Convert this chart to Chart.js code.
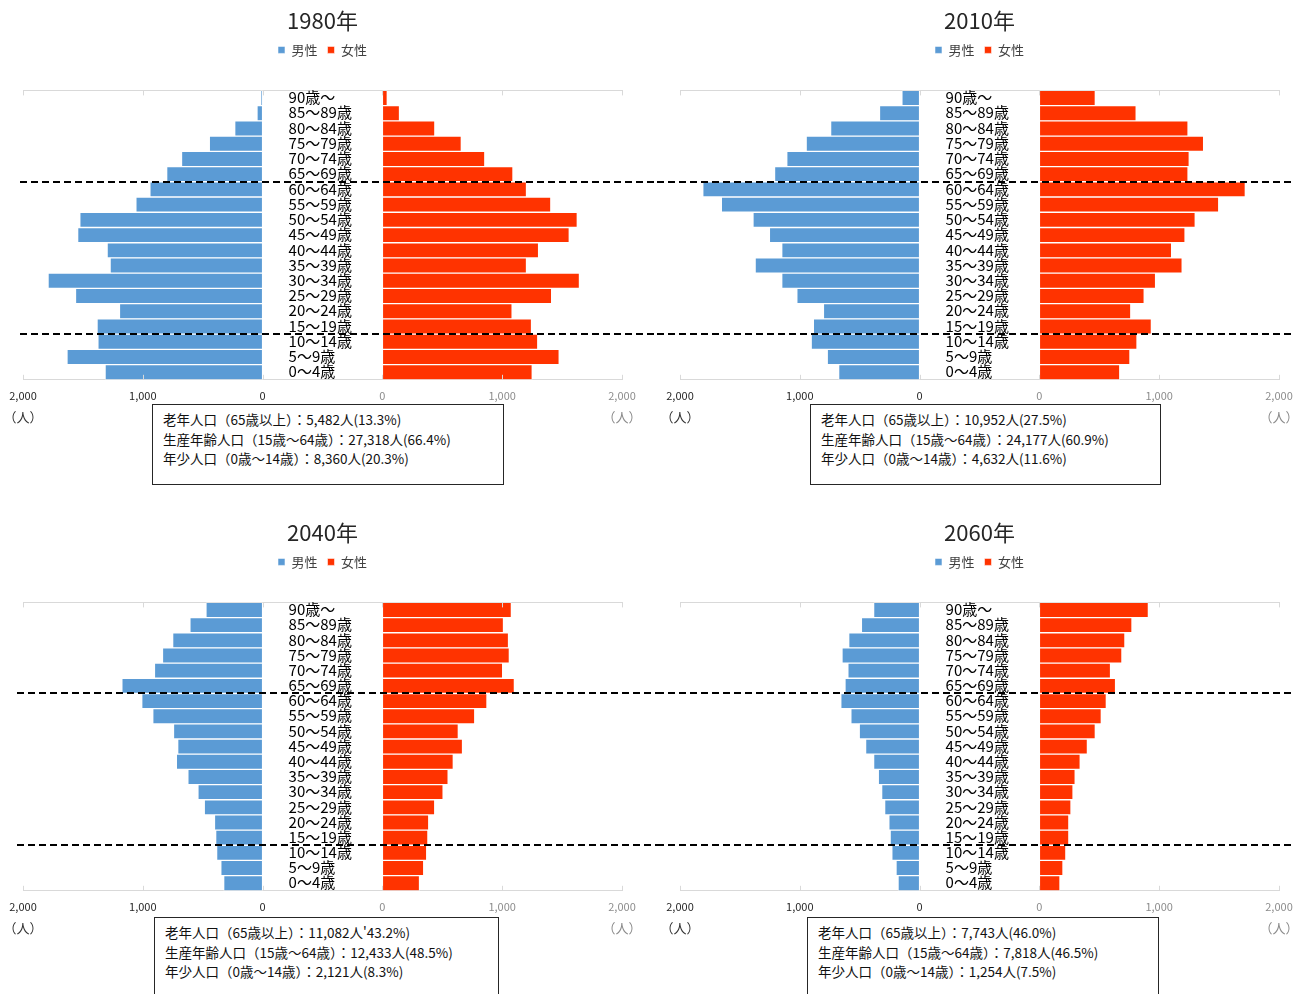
<!DOCTYPE html>
<html lang="ja">
<head>
<meta charset="utf-8">
<title>人口ピラミッド 1980年・2010年・2040年・2060年</title>
<script src="https://cdn.jsdelivr.net/npm/chart.js@4/dist/chart.umd.min.js"></script>
<style>
  html, body { margin: 0; padding: 0; background: #fff; }
  body { position: relative; width: 1309px; height: 994px; overflow: hidden;
         font-family: "Noto Sans CJK JP", "Noto Sans", sans-serif; }
  .panel { position: absolute; }
  .panel canvas { display: block; }
  .summary { position: absolute; box-sizing: border-box; border: 1px solid #262626; background: #fff;
             padding: 5px 0 0 10px; font-size: 13.5px; line-height: 19.5px; color: #111; white-space: nowrap; }
</style>
</head>
<body>
<script>
// Age groups, top row first
const ageGroups = ['90歳～', '85～89歳', '80～84歳', '75～79歳', '70～74歳', '65～69歳', '60～64歳',
  '55～59歳', '50～54歳', '45～49歳', '40～44歳', '35～39歳', '30～34歳', '25～29歳',
  '20～24歳', '15～19歳', '10～14歳', '5～9歳', '0～4歳'];

const years = ['1980年', '2010年', '2040年', '2060年'];
const seriesNames = ['男性', '女性'];

// Population by age group (人), same order as ageGroups
const male1980   = [15, 47, 233, 445, 677, 801, 941, 1058, 1526, 1544, 1298, 1273, 1791, 1562, 1195, 1382, 1375, 1633, 1315];
const female1980 = [41, 143, 438, 659, 855, 1090, 1203, 1406, 1627, 1560, 1304, 1203, 1645, 1413, 1083, 1245, 1297, 1476, 1251];
const male2010   = [148, 335, 743, 947, 1109, 1211, 1810, 1655, 1391, 1254, 1151, 1373, 1151, 1025, 803, 887, 905, 771, 676];
const female2010 = [467, 808, 1241, 1371, 1251, 1241, 1719, 1497, 1301, 1216, 1104, 1192, 970, 875, 763, 935, 815, 756, 671];
const male2040   = [473, 607, 751, 836, 903, 1175, 1009, 917, 744, 709, 720, 624, 540, 487, 402, 392, 384, 349, 325];
const female2040 = [1077, 1011, 1053, 1060, 1004, 1102, 873, 771, 634, 669, 592, 549, 507, 437, 387, 380, 370, 345, 310];
const male2060   = [384, 486, 592, 648, 599, 623, 658, 574, 504, 451, 384, 345, 317, 292, 257, 246, 232, 197, 180];
const female2060 = [910, 773, 714, 689, 594, 636, 559, 517, 467, 401, 341, 299, 281, 264, 246, 246, 221, 197, 172];

// Axis ticks for each half of the pyramid
const sideTicks = [0, 1000, 2000];
const unitLabel = '（人）';

// Summary text for each year
const summary1980 = ['老年人口（65歳以上）：5,482人(13.3%)', '生産年齢人口（15歳～64歳）：27,318人(66.4%)', '年少人口（0歳～14歳）：8,360人(20.3%)'];
const summary2010 = ['老年人口（65歳以上）：10,952人(27.5%)', '生産年齢人口（15歳～64歳）：24,177人(60.9%)', '年少人口（0歳～14歳）：4,632人(11.6%)'];
const summary2040 = ['老年人口（65歳以上）：11,082人\'43.2%)', '生産年齢人口（15歳～64歳）：12,433人(48.5%)', '年少人口（0歳～14歳）：2,121人(8.3%)'];
const summary2060 = ['老年人口（65歳以上）：7,743人(46.0%)', '生産年齢人口（15歳～64歳）：7,818人(46.5%)', '年少人口（0歳～14歳）：1,254人(7.5%)'];

// Age-band boundaries marked with a dashed divider (below 65～69歳 and below 15～19歳)
const dividerAfter = ['65～69歳', '15～19歳'];

const maleValues   = [male1980, male2010, male2040, male2060];
const femaleValues = [female1980, female2010, female2040, female2060];
const summaries    = [summary1980, summary2010, summary2040, summary2060];

// ---- drawing ----
const MALE_COLOR = '#5B9BD5';
const FEMALE_COLOR = '#FF3300';
const SIDE_MAX = sideTicks[sideTicks.length - 1];
const CENTER_GAP = 1000;            // width of the label band between the halves, in axis units
const HALF = CENTER_GAP / 2;

Chart.defaults.font.family = '"Noto Sans CJK JP", "Noto Sans", sans-serif';

// Panel placement on the page
const panels = [
  { left: 0,   top: 0,   width: 657, height: 512, padRight: 35, padBottom: 101, dash: [20, 657], box: { left: 152, top: 404, width: 352, height: 81 } },
  { left: 657, top: 0,   width: 652, height: 512, padRight: 30, padBottom: 101, dash: [0, 638],  box: { left: 810, top: 404, width: 351, height: 81 } },
  { left: 0,   top: 512, width: 657, height: 482, padRight: 35, padBottom: 72,  dash: [17, 657], box: { left: 154, top: 917, width: 345, height: 90 } },
  { left: 657, top: 512, width: 652, height: 482, padRight: 30, padBottom: 72,  dash: [0, 634],  box: { left: 807, top: 917, width: 352, height: 90 } }
];

// Tick positions on the shared axis: the male half runs leftwards from -HALF, the female half rightwards from +HALF
const axisTicks = [
  ...sideTicks.slice().reverse().map(v => -HALF - v),
  ...sideTicks.map(v => HALF + v)
];

const pyramidDecor = {
  id: 'pyramidDecor',
  afterDatasetsDraw(chart, args, opts) {
    const { ctx, chartArea, scales: { x, y } } = chart;
    ctx.save();

    // short inward tick marks on the top and bottom frame lines
    ctx.strokeStyle = '#d9d9d9';
    ctx.lineWidth = 1;
    ctx.beginPath();
    x.ticks.forEach(t => {
      const px = Math.round(x.getPixelForValue(t.value)) + 0.5;
      ctx.moveTo(px, chartArea.top);
      ctx.lineTo(px, chartArea.top + 5);
      ctx.moveTo(px, chartArea.bottom);
      ctx.lineTo(px, chartArea.bottom - 5);
    });
    ctx.stroke();

    // age-group labels in the centre band
    ctx.fillStyle = '#000';
    ctx.font = '15px "Noto Sans CJK JP", sans-serif';
    ctx.textAlign = 'left';
    ctx.textBaseline = 'middle';
    const labelX = x.getPixelForValue(-HALF) + 26;
    chart.data.labels.forEach((lab, i) => {
      ctx.fillText(lab, labelX, y.getPixelForValue(i) - 0.5);
    });

    // dashed dividers between age bands
    ctx.strokeStyle = '#000';
    ctx.lineWidth = 2;
    ctx.setLineDash([7, 4]);
    opts.dividers.forEach(name => {
      const i = chart.data.labels.indexOf(name);
      const py = Math.round((y.getPixelForValue(i) + y.getPixelForValue(i + 1)) / 2);
      ctx.beginPath();
      ctx.moveTo(opts.dashFrom, py);
      ctx.lineTo(opts.dashTo, py);
      ctx.stroke();
    });
    ctx.setLineDash([]);

    // unit labels under both ends of the axis
    ctx.font = '13px "Noto Sans CJK JP", sans-serif';
    ctx.textAlign = 'center';
    const uy = chartArea.bottom + 37;
    ctx.fillStyle = '#333';
    ctx.fillText(unitLabel, x.getPixelForValue(x.min), uy);
    ctx.fillStyle = '#8c8c8c';
    ctx.fillText(unitLabel, x.getPixelForValue(x.max), uy);

    ctx.restore();
  }
};

const fmt = v => v.toLocaleString('en-US');

panels.forEach((p, k) => {
  const wrap = document.createElement('div');
  wrap.className = 'panel';
  wrap.style.left = p.left + 'px';
  wrap.style.top = p.top + 'px';
  const canvas = document.createElement('canvas');
  canvas.width = p.width;
  canvas.height = p.height;
  canvas.style.width = p.width + 'px';
  canvas.style.height = p.height + 'px';
  wrap.appendChild(canvas);
  document.body.appendChild(wrap);

  new Chart(canvas, {
    type: 'bar',
    data: {
      labels: ageGroups,
      datasets: [
        {
          label: seriesNames[0],
          data: maleValues[k].map(v => [-HALF - v, -HALF]),
          backgroundColor: MALE_COLOR,
          borderColor: 'rgba(255,255,255,0.55)',
          borderWidth: 1,
          borderSkipped: false,
          barPercentage: 1,
          categoryPercentage: 1,
          grouped: false
        },
        {
          label: seriesNames[1],
          data: femaleValues[k].map(v => [HALF, HALF + v]),
          backgroundColor: FEMALE_COLOR,
          borderColor: 'rgba(255,255,255,0.55)',
          borderWidth: 1,
          borderSkipped: false,
          barPercentage: 1,
          categoryPercentage: 1,
          grouped: false
        }
      ]
    },
    options: {
      indexAxis: 'y',
      responsive: false,
      animation: false,
      events: [],
      layout: { padding: { left: 23, right: p.padRight, top: 0, bottom: p.padBottom } },
      scales: {
        x: {
          type: 'linear',
          position: 'bottom',
          min: -HALF - SIDE_MAX,
          max: HALF + SIDE_MAX,
          afterBuildTicks: scale => { scale.ticks = axisTicks.map(v => ({ value: v })); },
          grid: { display: true, drawOnChartArea: false, drawTicks: false, color: 'rgba(0,0,0,0)' },
          border: { display: true, color: '#d9d9d9', width: 1 },
          ticks: {
            padding: 9,
            maxRotation: 0,
            autoSkip: false,
            font: { size: 11 },
            color: c => (c.tick && c.tick.value < 0 ? '#262626' : '#8c8c8c'),
            callback: v => fmt(Math.abs(v) - HALF)
          }
        },
        xTop: {
          type: 'linear',
          position: 'top',
          min: -HALF - SIDE_MAX,
          max: HALF + SIDE_MAX,
          grid: { display: true, drawOnChartArea: false, drawTicks: true, tickLength: 24, color: 'rgba(0,0,0,0)' },
          border: { display: true, color: '#d9d9d9', width: 1 },
          ticks: { display: false }
        },
        y: { type: 'category', display: false, stacked: true }
      },
      plugins: {
        title: {
          display: true,
          text: years[k],
          color: '#262626',
          font: { size: 22, weight: 'normal' },
          padding: { top: 7, bottom: 0 }
        },
        legend: {
          display: true,
          position: 'top',
          labels: { boxWidth: 7, boxHeight: 7, padding: 10, color: '#404040', font: { size: 13 } }
        },
        tooltip: { enabled: false },
        pyramidDecor: { dividers: dividerAfter, dashFrom: p.dash[0], dashTo: p.dash[1] }
      }
    },
    plugins: [pyramidDecor]
  });

  // summary box
  const box = document.createElement('div');
  box.className = 'summary';
  box.style.left = p.box.left + 'px';
  box.style.top = p.box.top + 'px';
  box.style.width = p.box.width + 'px';
  box.style.height = p.box.height + 'px';
  box.innerHTML = summaries[k].map(s => '<div>' + s + '</div>').join('');
  document.body.appendChild(box);
});
</script>
</body>
</html>
